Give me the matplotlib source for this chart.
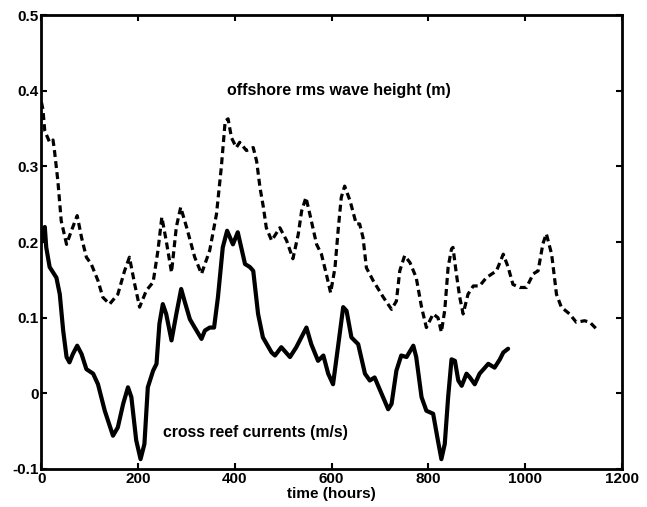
import matplotlib
matplotlib.use("Agg")
import matplotlib.pyplot as plt

plt.rcParams['font.family'] = ['Liberation Sans', 'DejaVu Sans']
plt.rcParams['font.weight'] = 'bold'
plt.rcParams['lines.scale_dashes'] = False

# offshore rms wave height (m) -- dashed
wave_t = [0, 3, 7, 17, 24, 27, 34, 41, 52, 62, 74, 83, 93, 103, 117, 127, 141, 158, 172, 182,
          193, 203, 217, 231, 241, 249, 258, 269, 279, 288, 300, 317, 331, 348, 362, 372, 380,
          386, 393, 403, 410, 424, 438, 445, 452, 459, 465, 476, 493, 507, 520, 531, 538, 547,
          555, 569, 579, 589, 598, 607, 614, 620, 627, 638, 651, 658, 665, 672, 686, 707, 724,
          734, 741, 751, 762, 775, 786, 796, 810, 820, 827, 834, 841, 848, 851, 858, 865, 872,
          882, 893, 906, 920, 941, 955, 965, 975, 989, 1003, 1017, 1027, 1037, 1044, 1055,
          1065, 1075, 1092, 1106, 1123, 1134, 1151]
wave_h = [0.385, 0.376, 0.347, 0.332, 0.335, 0.321, 0.281, 0.228, 0.197, 0.215, 0.235, 0.206,
          0.180, 0.171, 0.149, 0.127, 0.118, 0.131, 0.162, 0.180, 0.144, 0.114, 0.136, 0.147,
          0.189, 0.233, 0.202, 0.160, 0.220, 0.246, 0.220, 0.180, 0.158, 0.189, 0.237, 0.299,
          0.360, 0.363, 0.338, 0.325, 0.332, 0.321, 0.325, 0.307, 0.272, 0.246, 0.219, 0.202,
          0.219, 0.202, 0.178, 0.210, 0.241, 0.259, 0.237, 0.197, 0.184, 0.158, 0.133, 0.166,
          0.219, 0.259, 0.274, 0.255, 0.224, 0.224, 0.206, 0.166, 0.149, 0.127, 0.111, 0.122,
          0.162, 0.182, 0.173, 0.153, 0.114, 0.087, 0.105, 0.100, 0.081, 0.110, 0.167, 0.191,
          0.193, 0.158, 0.127, 0.105, 0.131, 0.142, 0.142, 0.153, 0.162, 0.184, 0.167, 0.144,
          0.140, 0.140, 0.158, 0.162, 0.198, 0.211, 0.184, 0.131, 0.114, 0.105, 0.094, 0.096,
          0.094, 0.083]

# cross reef currents (m/s) -- solid
cur_t = [0, 3, 7, 10, 17, 31, 38, 45, 52, 58, 65, 74, 83, 93, 107, 117, 131, 148, 158, 169,
         179, 186, 196, 205, 213, 220, 231, 238, 244, 251, 258, 269, 279, 289, 296, 307, 317,
         331, 338, 348, 357, 365, 375, 384, 396, 406, 421, 431, 438, 448, 458, 476, 483, 496,
         514, 527, 548, 558, 572, 583, 593, 603, 614, 624, 631, 641, 655, 669, 679, 689, 703,
         717, 724, 734, 744, 755, 769, 775, 786, 796, 810, 820, 827, 834, 841, 848, 855, 862,
         869, 879, 886, 896, 906, 924, 937, 948, 955, 965]
cur_v = [0.200, 0.215, 0.220, 0.193, 0.167, 0.153, 0.131, 0.083, 0.048, 0.041, 0.052, 0.063,
         0.052, 0.032, 0.026, 0.012, -0.023, -0.056, -0.045, -0.014, 0.008, -0.005, -0.062,
         -0.087, -0.067, 0.008, 0.030, 0.039, 0.092, 0.118, 0.105, 0.070, 0.105, 0.138, 0.122,
         0.098, 0.087, 0.072, 0.083, 0.087, 0.087, 0.127, 0.193, 0.215, 0.197, 0.213, 0.171,
         0.167, 0.162, 0.105, 0.074, 0.054, 0.050, 0.061, 0.048, 0.061, 0.087, 0.065, 0.043,
         0.050, 0.026, 0.012, 0.065, 0.114, 0.109, 0.074, 0.065, 0.026, 0.017, 0.021, 0.000,
         -0.021, -0.014, 0.030, 0.050, 0.048, 0.063, 0.048, -0.005, -0.023, -0.027, -0.063,
         -0.087, -0.067, -0.005, 0.045, 0.043, 0.017, 0.010, 0.026, 0.021, 0.012, 0.026, 0.039,
         0.034, 0.045, 0.054, 0.059]

x_ticks = [0, 200, 400, 600, 800, 1000, 1200]
y_ticks = [-0.1, 0, 0.1, 0.2, 0.3, 0.4, 0.5]
y_tick_labels = ['-0.1', '0', '0.1', '0.2', '0.3', '0.4', '0.5']

fig = plt.figure(figsize=(6.47, 5.07), dpi=100)
ax = fig.add_axes([0.064, 0.075, 0.897, 0.895])

ax.plot(wave_t, wave_h, color='black', lw=2.3, linestyle=(0, (5, 3)))
ax.plot(cur_t, cur_v, color='black', lw=3.0, solid_joinstyle='round', solid_capstyle='round')

ax.text(383, 0.40, 'offshore rms wave height (m)', fontsize=11.5, fontweight='bold',
        ha='left', va='center')
ax.text(251, -0.052, 'cross reef currents (m/s)', fontsize=11.3, fontweight='bold',
        ha='left', va='center')

ax.set_xlim(0, 1200)
ax.set_ylim(-0.1, 0.5)
ax.set_xticks(x_ticks)
ax.set_yticks(y_ticks)
ax.set_yticklabels(y_tick_labels)
ax.set_xlabel('time (hours)', fontsize=11, fontweight='bold', labelpad=1)
ax.tick_params(direction='in', top=True, right=True, length=4, width=1.5,
               labelsize=11, pad=2)
for lab in ax.get_xticklabels() + ax.get_yticklabels():
    lab.set_fontweight('bold')
for s in ax.spines.values():
    s.set_linewidth(2)

fig.savefig('out.png', dpi=100)
